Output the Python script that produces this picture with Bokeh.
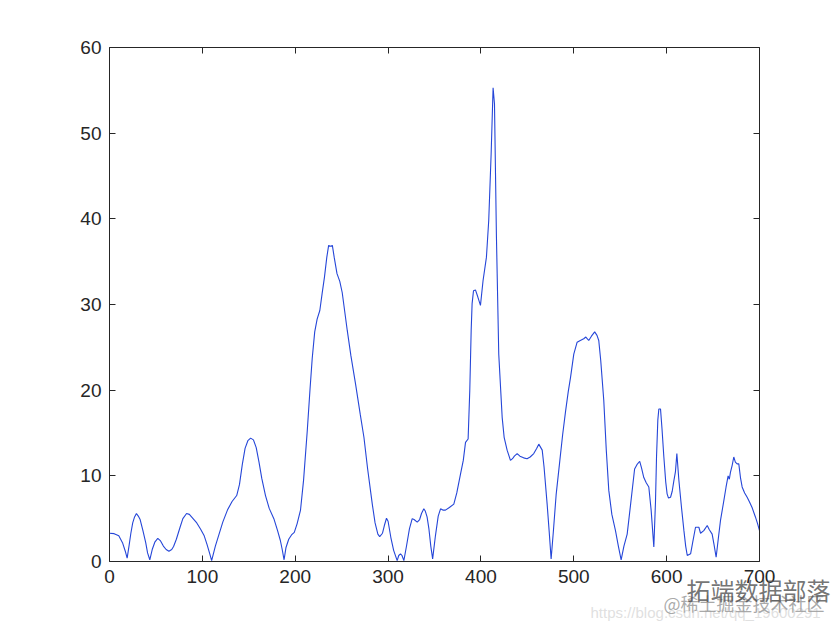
from bokeh.plotting import figure
from bokeh.models import Range1d, LinearAxis, Label, FixedTicker
from bokeh.embed import file_html
from bokeh.resources import INLINE

x_vals = [0, 5, 10, 14, 17, 19, 21, 23, 25, 27, 29, 31, 33, 36, 39, 41, 43.4,
          46, 49, 52, 55, 58, 61, 64, 67, 69, 72, 76, 79, 83, 86, 90, 94, 98, 102, 105, 108, 110,
          114, 118, 122, 127, 132, 137, 140, 143, 146, 149, 152, 155, 158, 161, 164, 168, 172,
          177, 181, 184, 186, 188, 190, 193, 196, 199, 202, 205.7, 209, 213, 216, 218.3, 221,
          223.6, 226.5, 229, 231.5, 234, 236, 238, 240, 242, 245, 248, 250.6, 256, 260, 265,
          270, 274, 278, 283, 286, 289, 291, 294, 296, 298.3, 300, 303, 306, 309.8, 311.5,
          313.4, 315, 317, 320, 323, 326, 328, 331.4, 334, 336, 338.5, 340, 342, 344, 346, 348,
          351, 354, 356.5, 359, 361.8, 366, 370.8, 374, 378, 381, 383.4, 386.2, 388, 389.5,
          390.5, 392, 394.1, 396.6, 399.5, 402.3, 405.9, 408.4, 411, 413.1, 414.6, 416.7,
          419.2, 422.9, 425, 428.2, 431.8, 434, 436, 439, 442, 446, 449.7, 453, 456.9, 460,
          462.3, 466, 468, 471.3, 473.5, 475.6, 478, 481, 485, 488, 491, 494, 496.5, 500,
          503.6, 507, 510.7, 513, 516.1, 519, 522.5, 525, 526.9, 529, 532.3, 535, 537.7, 541,
          544.9, 548, 551, 554, 557.5, 561, 565.5, 568, 571, 573, 575.4, 578, 580.8, 583.3,
          586.2, 588, 589.1, 590.5, 591.6, 593.4, 595, 597, 599, 600.5, 602, 604.2, 606, 607.8,
          609.5, 611, 613.2, 616, 618.6, 620.5, 622.2, 625.8, 628, 631.1, 634.7, 636.5, 640,
          643.7, 646, 649, 651, 653.3, 656, 658, 661.6, 664, 666.2, 667.5, 668.7, 670.5, 672.3,
          674, 675.9, 677.7, 679.5, 681.3, 684, 686.7, 689, 692, 695.6, 698, 700]
y_vals = [3.3, 3.25, 3.0, 2.2, 1.2, 0.4, 1.8, 3.3, 4.5, 5.2, 5.6, 5.3, 4.9, 3.6, 2.2, 1.0, 0.2,
          1.4, 2.3, 2.7, 2.4, 1.8, 1.4, 1.2, 1.4, 1.75, 2.6, 4.0, 5.0, 5.6, 5.5, 5.0, 4.5, 3.8, 3.0, 2.0, 0.9, 0.1,
          1.8, 3.2, 4.6, 6.0, 7.0, 7.7, 9.0, 11.3, 13.2, 14.1, 14.4, 14.2, 13.3, 11.6, 9.7, 7.7, 6.2,
          5.0, 3.6, 2.45, 1.4, 0.2, 1.6, 2.6, 3.1, 3.4, 4.4, 6.0, 9.5, 15.3, 20.2, 23.7, 26.8,
          28.3, 29.3, 31.3, 33.2, 35.5, 36.9, 36.8, 36.9, 35.5, 33.6, 32.7, 31.4, 27.0, 24.0, 20.7,
          17.2, 14.5, 10.8, 6.7, 4.5, 3.2, 2.9, 3.3, 4.2, 5.05, 4.7, 2.8, 1.3, 0.1, 0.7,
          0.9, 0.7, 0.1, 1.9, 3.8, 5.0, 4.9, 4.6, 4.9, 5.6, 6.15, 5.9, 5.2, 3.8, 1.8, 0.3,
          3.0, 5.3, 6.15, 6.0, 6.0, 6.3, 6.7, 8.0, 10.2, 11.8, 13.9, 14.3, 20.0, 27.0,
          30.1, 31.6, 31.7, 30.9, 29.9, 32.8, 35.5, 39.8, 47.6, 55.3, 53.4, 37.9,
          24.2, 16.8, 14.5, 13.0, 11.8, 12.0, 12.3, 12.6, 12.3, 12.1, 12.0, 12.2, 12.6, 13.2,
          13.7, 13.0, 11.0, 6.7, 3.5, 0.3, 3.5, 7.8, 11.8, 14.8, 17.4, 19.8, 21.5, 24.2,
          25.6, 25.8, 26.0, 26.2, 25.8, 26.3, 26.8, 26.4, 25.8, 23.5, 18.8, 13.0, 8.3, 5.5,
          3.6, 1.8, 0.2, 1.8, 3.2, 6.5, 10.8, 11.3, 11.7, 10.9, 9.8, 9.2, 8.7, 6.0,
          1.7, 7.0, 12.2, 16.5, 17.8, 17.8, 15.5, 12.2, 9.3, 7.9, 7.4, 7.5, 8.2, 9.45,
          10.5, 12.6, 9.45, 6.3, 3.6, 1.8, 0.7, 0.9, 2.2, 4.0, 4.0, 3.3, 3.6,
          4.2, 3.7, 3.2, 2.0, 0.5, 3.0, 4.8, 7.1, 8.7, 10.0, 9.6, 10.4, 11.2, 12.2,
          11.6, 11.4, 11.4, 9.8, 8.7, 8.0, 7.5, 7.0, 6.3, 5.2, 4.4, 3.6]
x_ticks = [0, 100, 200, 300, 400, 500, 600, 700]
y_ticks = [0, 10, 20, 30, 40, 50, 60]
x_lim = (0, 700)
y_lim = (0, 60)

FONT = "Liberation Sans"
AX = "#262626"

# The plot frame fills the whole canvas; the axes box (0..700, 0..60) is drawn
# with fixed-location axes so that texts outside the box are not clipped.
PX_PER_X = 650 / 700
PX_PER_Y = 514 / 60
p = figure(width=840, height=630, output_backend="svg", toolbar_location=None,
           x_range=Range1d(-109 / PX_PER_X, 731 / PX_PER_X),
           y_range=Range1d(-69 / PX_PER_Y, 561 / PX_PER_Y),
           min_border_left=0, min_border_right=0, min_border_top=0, min_border_bottom=0,
           x_axis_location=None, y_axis_location=None)
p.grid.visible = False
p.outline_line_color = None
p.background_fill_color = "white"
p.border_fill_color = "white"

p.line(x_vals, y_vals, line_color="#2546d8", line_width=1.1)

def mk_axis(ticks, show_labels, **kw):
    ax = LinearAxis(ticker=FixedTicker(ticks=ticks), **kw)
    ax.major_tick_in = 6
    ax.major_tick_out = 0
    ax.minor_tick_in = 0
    ax.minor_tick_out = 0
    ax.axis_line_color = AX
    ax.major_tick_line_color = AX
    ax.major_label_text_font = FONT
    ax.major_label_text_font_size = "19px"
    ax.major_label_text_color = AX if show_labels else None
    ax.major_label_standoff = 8
    return ax

p.add_layout(mk_axis(x_ticks, True, fixed_location=y_lim[0], bounds=x_lim), "below")
p.add_layout(mk_axis(y_ticks, True, fixed_location=x_lim[0], bounds=y_lim), "left")
p.add_layout(mk_axis(x_ticks, False, fixed_location=y_lim[1], bounds=x_lim), "above")
p.add_layout(mk_axis(y_ticks, False, fixed_location=x_lim[1], bounds=y_lim), "right")

# watermark texts
p.add_layout(Label(x=518, y=-5.95, text="https://blog.csdn.net/qq_19600291", text_font=FONT,
                   text_font_size="15px", text_color="#dcdcdc", text_alpha=0.9,
                   text_baseline="middle"))
p.add_layout(Label(x=596.6, y=-4.9, text="@稀土掘金技术社区", text_font="Noto Sans CJK SC",
                   text_font_size="18px", text_color="#9a9a9a", text_alpha=0.85,
                   text_baseline="middle"))
p.add_layout(Label(x=621.5, y=-3.3, text="拓端数据部落", text_font="Noto Sans CJK SC",
                   text_font_size="24px", text_color="#505050", text_alpha=0.8,
                   text_baseline="middle"))

open("out.html", "w").write(file_html(p, INLINE))
